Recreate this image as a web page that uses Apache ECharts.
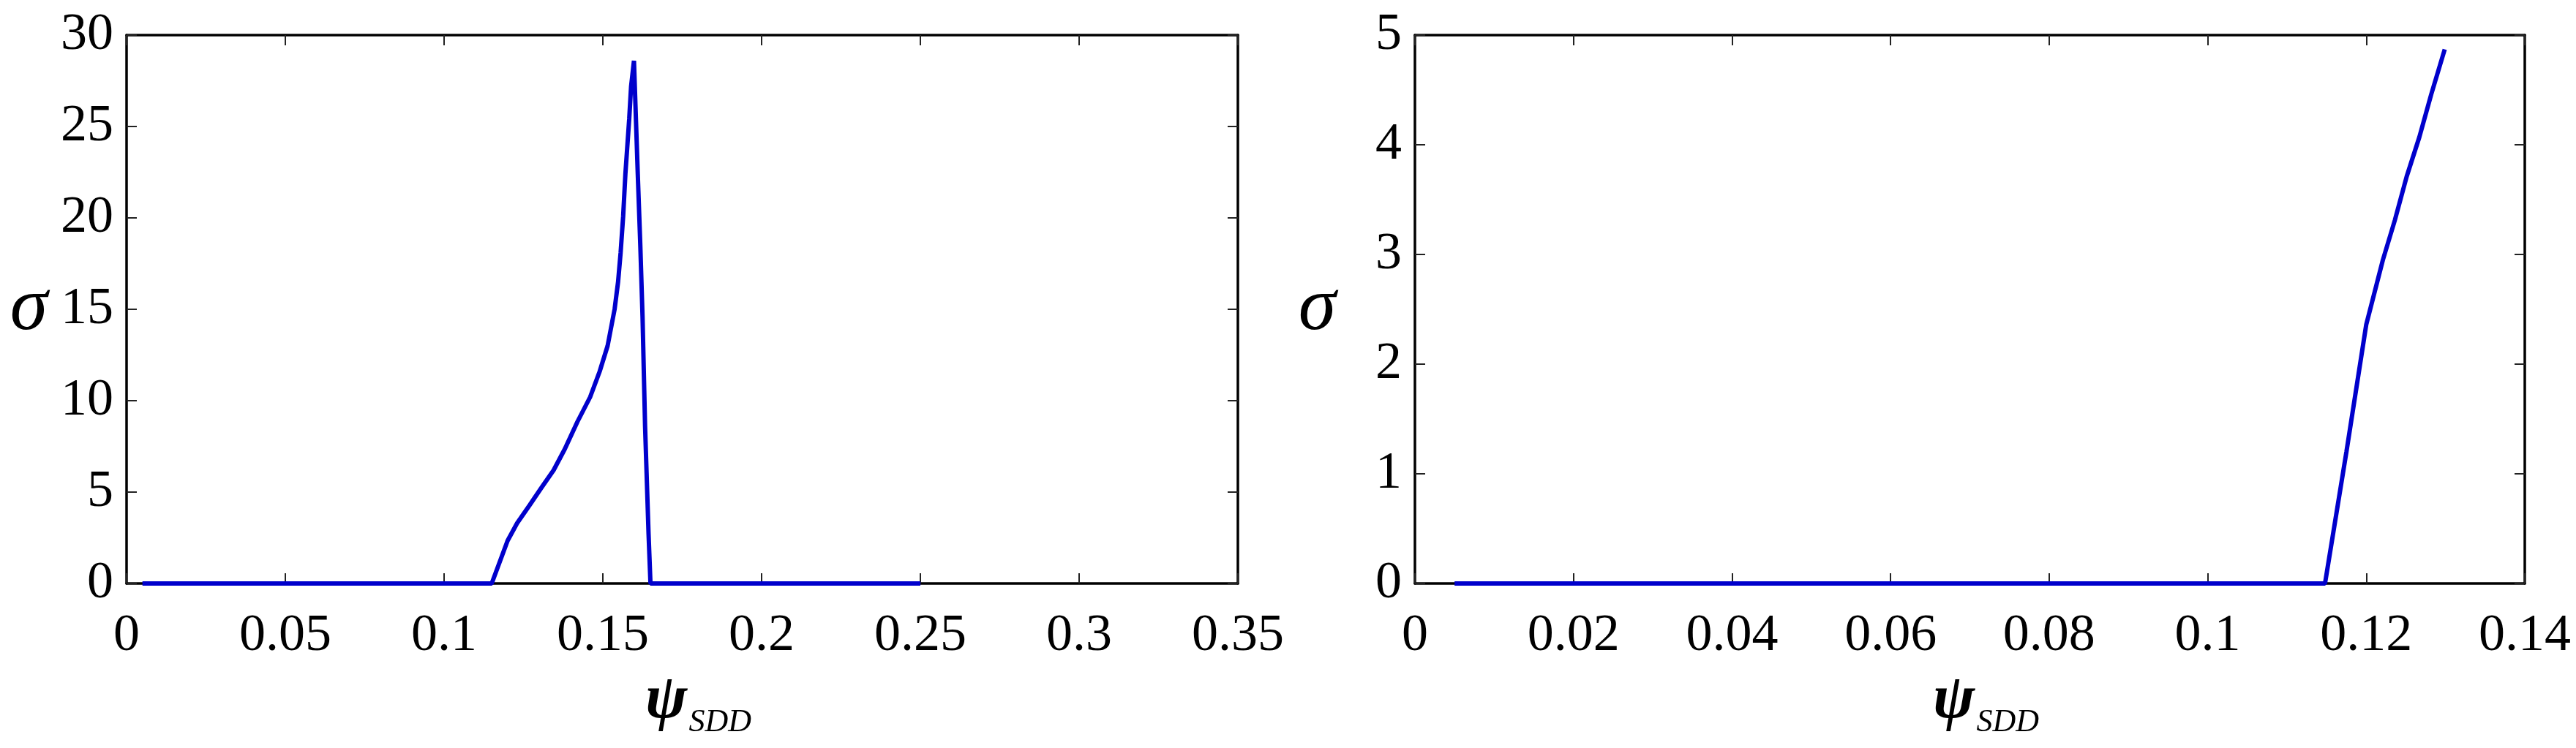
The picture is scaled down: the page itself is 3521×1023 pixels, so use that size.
<!DOCTYPE html>
<html>
<head>
<meta charset="utf-8">
<title>sigma - psi_SDD</title>
<script src="https://cdn.jsdelivr.net/npm/echarts@6/dist/echarts.min.js"></script>
<style>
    body { margin: 0; background: #fff; }
    #main { width: 3521px; height: 1023px; }
</style>
</head>
<body>
<div id="main"></div>
<script>
    // left panel: psi_SDD from 0 to 0.35
    var leftX = [0.005, 0.115, 0.12, 0.123, 0.127, 0.1305, 0.1345, 0.138, 0.142, 0.146, 0.149, 0.1515, 0.1537, 0.1548, 0.1556, 0.1564, 0.1571, 0.1583, 0.1589, 0.1598, 0.161, 0.1618, 0.1625, 0.1633, 0.1644, 0.165, 0.25];
    var leftY = [0, 0, 2.34, 3.3, 4.3, 5.2, 6.2, 7.35, 8.85, 10.2, 11.6, 13.0, 15.0, 16.5, 18.1, 20.1, 22.4, 25.4, 27.2, 28.6, 22.4, 18.5, 14.6, 8.6, 2.7, 0, 0];

    // right panel: psi_SDD from 0 to 0.14
    var rightX = [0.005, 0.1148, 0.1175, 0.12, 0.1221, 0.1236, 0.1251, 0.1267, 0.1282, 0.1299];
    var rightY = [0, 0, 1.2, 2.36, 2.95, 3.31, 3.71, 4.07, 4.46, 4.87];

    // axis ranges / tick steps
    var leftXMax = 0.35, leftXStep = 0.05, leftYMax = 30, leftYStep = 5;
    var rightXMax = 0.14, rightXStep = 0.02, rightYMax = 5, rightYStep = 1;

    var font = '"Liberation Serif", "Times New Roman", serif';

    function pairs(xs, ys) {
        var res = [];
        for (var i = 0; i < xs.length; i++) {
            res.push([xs[i], ys[i]]);
        }
        return res;
    }

    // one bottom/top pair of x axes per grid, top one only draws the box + ticks
    function xAxes(grid, max, step) {
        var base = {
            type: 'value', gridIndex: grid, min: 0, max: max, interval: step,
            splitLine: { show: false },
            axisLine: { show: true, onZero: false, lineStyle: { color: '#000', width: 3.5 } },
            axisTick: { show: true, inside: true, length: 14, lineStyle: { color: '#222', width: 2 } }
        };
        var bottom = echarts.util.merge({
            position: 'bottom',
            axisLabel: { show: true, color: '#000', fontFamily: font, fontSize: 72, margin: 36 },
            name: '{psi|ψ}{sub|SDD}',
            nameLocation: 'middle',
            nameGap: 118,
            nameTextStyle: {
                rich: {
                    psi: { fontFamily: font, fontStyle: 'italic', fontWeight: 'bold', fontSize: 86, color: '#000', verticalAlign: 'bottom', lineHeight: 86, padding: [0, 0, 0, 44] },
                    sub: { fontFamily: font, fontStyle: 'italic', fontSize: 44, color: '#000', verticalAlign: 'bottom', lineHeight: 44, padding: [0, 0, -8, 2] }
                }
            }
        }, base, true);
        var top = echarts.util.merge({ position: 'top', axisLabel: { show: false } }, base, true);
        return [bottom, top];
    }

    function yAxes(grid, max, step) {
        var base = {
            type: 'value', gridIndex: grid, min: 0, max: max, interval: step,
            splitLine: { show: false },
            axisLine: { show: true, onZero: false, lineStyle: { color: '#000', width: 3.5 } },
            axisTick: { show: true, inside: true, length: 14, lineStyle: { color: '#222', width: 2 } }
        };
        var left = echarts.util.merge({
            position: 'left',
            axisLabel: { show: true, color: '#000', fontFamily: font, fontSize: 72, margin: 18 },
            name: 'σ',
            nameLocation: 'middle',
            nameRotate: 0,
            nameGap: 108,
            nameTextStyle: { fontFamily: font, fontStyle: 'italic', fontSize: 104, color: '#000' }
        }, base, true);
        var right = echarts.util.merge({ position: 'right', axisLabel: { show: false } }, base, true);
        return [left, right];
    }

    var myChart = echarts.init(document.getElementById('main'), null, { renderer: 'canvas' });

    var option = {
        backgroundColor: '#fff',
        animation: false,
        grid: [
            { left: 173, top: 48, width: 1519, height: 750 },
            { left: 1934, top: 48, width: 1517, height: 750 }
        ],
        xAxis: xAxes(0, leftXMax, leftXStep).concat(xAxes(1, rightXMax, rightXStep)),
        yAxis: yAxes(0, leftYMax, leftYStep).concat(yAxes(1, rightYMax, rightYStep)),
        series: [
            {
                type: 'line', xAxisIndex: 0, yAxisIndex: 0,
                data: pairs(leftX, leftY),
                showSymbol: false, smooth: false,
                lineStyle: { color: '#0000cc', width: 6 }
            },
            {
                type: 'line', xAxisIndex: 2, yAxisIndex: 2,
                data: pairs(rightX, rightY),
                showSymbol: false, smooth: false,
                lineStyle: { color: '#0000cc', width: 6 }
            }
        ]
    };
    myChart.setOption(option);
</script>
</body>
</html>
